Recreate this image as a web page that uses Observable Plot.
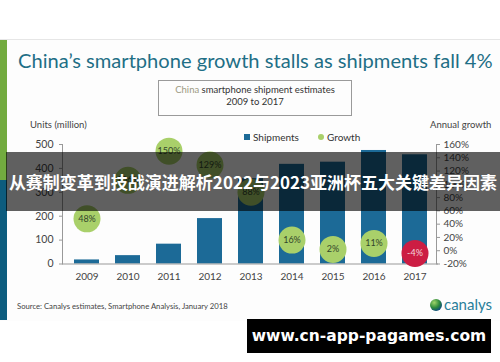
<!DOCTYPE html>
<html>
<head>
<meta charset="utf-8">
<script src="https://cdn.jsdelivr.net/npm/d3@7"></script>
<script src="https://cdn.jsdelivr.net/npm/@observablehq/plot@0.6"></script>
<style>
  html, body { margin: 0; padding: 0; background: #fff; }
  body { width: 500px; height: 362px; position: relative; overflow: hidden; font-family: Lato, "Open Sans", sans-serif; }
  .abs { position: absolute; }
  #frame { left: 0; top: 39px; width: 500px; height: 281px; background: #fdfdfd; border-top: 1px solid #e6e6e6; }
  #stripeG { left: 0; top: 40px; width: 7px; height: 140px; background: #72ab3f; }
  #stripeB { left: 0; top: 180px; width: 7px; height: 140px; background: #0d5c7e; }
  #title { left: 18px; top: 47px; font-size: 21px; color: #1f6f86; white-space: nowrap; }
  #box { left: 158px; top: 80px; width: 192px; height: 31px; border: 1px solid #9a9a9a; text-align: center; font-size: 9.5px; line-height: 12px; color: #333; padding-top: 3px; box-sizing: content-box; }
  #units { left: 30px; top: 119px; font-size: 9.5px; color: #444; }
  #annual { left: 430px; top: 119px; font-size: 9.5px; color: #444; }
  .legtxt { font-size: 10px; color: #333; top: 131px; }
  #source { left: 17px; top: 301px; font-size: 7.7px; color: #444; white-space: nowrap; }
  #logo { left: 430px; top: 295px; font-size: 15px; color: #2a7f9a; white-space: nowrap; }
  #banner { left: 6px; top: 152px; width: 494px; height: 59px; background: rgba(0,0,0,0.62); color: #fff; font-family: "Noto Sans CJK SC", sans-serif; font-weight: bold; font-size: 17px; line-height: 59px; text-align: center; white-space: nowrap; }
  #wm { left: 247px; top: 319px; width: 244px; height: 34px; background: #000; color: #fff; font-family: "DejaVu Sans", sans-serif; font-weight: bold; font-size: 15.5px; line-height: 34px; text-align: center; white-space: nowrap; }
  svg { position: absolute; left: 0; top: 0; }
</style>
</head>
<body>
<script>
// ---- data ----
const years = ["2009", "2010", "2011", "2012", "2013", "2014", "2015", "2016", "2017"];
const shipments = [17, 35, 83, 190, 357, 417, 426, 475, 457];
const growth = [48, 106, 150, 129, 88, 16, 2, 11, -4];
const growthLabels = ["48%", "106%", "150%", "129%", "88%", "16%", "2%", "11%", "-4%"];
const leftTicks = [0, 100, 200, 300, 400, 500];
const rightTicks = [-20, 0, 20, 40, 60, 80, 100, 120, 140, 160];

const rows = years.map((y, i) => ({year: y, shipments: shipments[i], growth: growth[i], label: growthLabels[i]}));

const add = (tag, id, cls, html) => {
  const el = document.createElement(tag);
  if (id) el.id = id;
  el.className = "abs" + (cls ? " " + cls : "");
  if (html != null) el.innerHTML = html;
  document.body.appendChild(el);
  return el;
};

add("div", "frame");
add("div", "stripeG");
add("div", "stripeB");
const title = add("div", "title", "", "China\u2019s smartphone growth stalls as shipments fall 4%");
// fit title to the reference width (18px -> 493px)
{
  const w = title.getBoundingClientRect().width;
  const fs = 21 * 475 / w;
  title.style.fontSize = fs.toFixed(2) + "px";
  title.style.top = (60 - fs * 0.62).toFixed(1) + "px";
}
add("div", "box", "", '<span style="color:#9c9a82">China</span> smartphone shipment estimates<br>2009 to 2017');
add("div", "units", "", "Units (million)");
add("div", "annual", "", "Annual growth");

const common = {
  width: 500, height: 362,
  marginTop: 144, marginBottom: 98.5, marginLeft: 62, marginRight: 62,
  style: {background: "transparent", fontFamily: "Lato, sans-serif", fontSize: "10px", color: "#444"}
};

const p1 = Plot.plot({
  ...common,
  x: {type: "band", domain: years, paddingInner: 0.4, paddingOuter: 0.23, label: null},
  y: {domain: [0, 500], label: null},
  marks: [
    Plot.barY(rows, {x: "year", y: "shipments", fill: "#1c6a97"}),
    Plot.ruleY([0], {stroke: "#999"}),
    Plot.frame({anchor: "left", stroke: "#999"}),
    Plot.axisY({ticks: leftTicks, tickSize: 3, tickPadding: 6, stroke: "#999", fontSize: 10.5, label: null}),
    Plot.axisX({tickSize: 0, tickPadding: 9, fontSize: 10, label: null})
  ]
});
document.body.appendChild(p1);

const p2 = Plot.plot({
  ...common,
  x: {type: "band", domain: years, paddingInner: 0.4, paddingOuter: 0.23, axis: null, label: null},
  y: {domain: [-20, 160], label: null},
  marks: [
    Plot.frame({anchor: "right", stroke: "#999", dx: -2}),
    Plot.axisY({anchor: "right", ticks: rightTicks, tickFormat: d => d + "%", tickSize: 3, tickPadding: 4, stroke: "#999", fontSize: 10, label: null, dx: -2}),
    Plot.dot(rows.filter(d => d.growth >= 0), {x: "year", y: "growth", r: 13.5, fill: "#a9d06a"}),
    Plot.dot(rows.filter(d => d.growth < 0), {x: "year", y: "growth", r: 13.5, fill: "#cc1d43"}),
    Plot.text(rows.filter(d => d.growth >= 0), {x: "year", y: "growth", text: "label", fill: "#33462a", fontSize: 9}),
    Plot.text(rows.filter(d => d.growth < 0), {x: "year", y: "growth", text: "label", fill: "#f3d6dc", fontSize: 9})
  ]
});
document.body.appendChild(p2);

// legend
const leg = add("div", null, "");
leg.style.left = "0px"; leg.style.top = "0px";
leg.innerHTML =
  '<div class="abs" style="left:244px;top:134px;width:6px;height:6px;background:#1c6a97"></div>' +
  '<div class="abs legtxt" style="left:253px">Shipments</div>' +
  '<div class="abs" style="left:318px;top:134px;width:6px;height:6px;border-radius:3px;background:#a9d06a"></div>' +
  '<div class="abs legtxt" style="left:327px">Growth</div>';

add("div", "source", "", "Source: Canalys estimates, Smartphone Analysis, January 2018");
add("div", "logo", "", '<span style="display:inline-block;width:12px;height:12px;border-radius:6px;background:radial-gradient(circle at 35% 30%,#9fd46a,#2f8a3c 45%,#0d4f7a 75%);vertical-align:-1px;margin-right:2px"></span>canalys');
add("div", "banner", "", "从赛制变革到技战演进解析2022与2023亚洲杯五大关键差异因素");
add("div", "wm", "", "www.cn-app-pagames.com");
</script>
</body>
</html>
